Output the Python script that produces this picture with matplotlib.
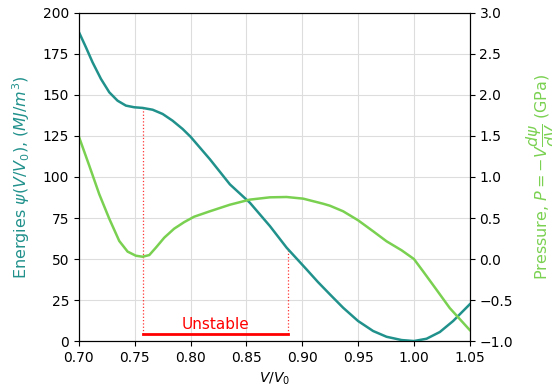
import numpy as np
import matplotlib
matplotlib.use("Agg")
import matplotlib.pyplot as plt

# values
v_energy = [0.7000, 0.7063, 0.7122, 0.7197, 0.7272, 0.7346, 0.7421, 0.7495,
            0.7570, 0.7660, 0.7750, 0.7839, 0.7928, 0.8000, 0.8173, 0.8352,
            0.8531, 0.8710, 0.8860, 0.9038, 0.9140, 0.9247, 0.9366, 0.9500,
            0.9635, 0.9755, 0.9890, 1.0000, 1.0113, 1.0232, 1.0351, 1.0500]
energy = [188.3, 179.0, 169.9, 159.8, 151.6, 146.5, 143.5, 142.5,
          142.1, 141.0, 138.4, 134.3, 129.3, 124.5, 110.8, 95.5,
          84.3, 70.1, 56.9, 43.7, 36.0, 28.5, 20.3, 12.2,
          6.1, 2.6, 0.6, 0.0, 1.4, 5.5, 12.2, 22.4]

v_pressure = [0.7000, 0.7092, 0.7182, 0.7272, 0.7361, 0.7436, 0.7510, 0.7570,
              0.7630, 0.7690, 0.7764, 0.7853, 0.7943, 0.8032, 0.8173, 0.8352,
              0.8530, 0.8710, 0.8860, 0.9008, 0.9187, 0.9247, 0.9366, 0.9500,
              0.9635, 0.9755, 0.9890, 1.0000, 1.0082, 1.0202, 1.0321, 1.0500]
pressure = [1.49, 1.14, 0.79, 0.49, 0.22, 0.09, 0.04, 0.028,
            0.048, 0.14, 0.26, 0.37, 0.45, 0.516, 0.582, 0.662,
            0.724, 0.752, 0.756, 0.736, 0.674, 0.65, 0.582, 0.472,
            0.338, 0.216, 0.106, 0.0, -0.15, -0.374, -0.598, -0.866]

v_unstable = [0.757, 0.887]
e_unstable = [142.1, 56.5]
unstable_level = 4

teal = '#21918c'
green = '#7ad151'

fig, ax = plt.subplots(figsize=(5.52, 3.92), dpi=100)
fig.subplots_adjust(left=0.143, right=0.851, top=0.967, bottom=0.130)

ax.plot(v_energy, energy, color=teal, lw=1.8, zorder=3)
ax.set_xlim(0.70, 1.05)
ax.set_ylim(0, 200)
ax.set_xlabel('$V/V_0$')
ax.set_ylabel(r'Energies $\psi(V/V_0)$, $(MJ/m^3)$', color=teal, fontsize=11.5,
              labelpad=7.5)
ax.grid(True, color='#dddddd', lw=0.8)

# unstable region
for v, e in zip(v_unstable, e_unstable):
    ax.plot([v, v], [unstable_level, e], color='red', ls=':', lw=0.9, alpha=0.8)
ax.plot(v_unstable, [unstable_level, unstable_level], color='red', lw=2)
ax.text(np.mean(v_unstable), unstable_level + 1.5, 'Unstable', color='red',
        ha='center', va='bottom', fontsize=11)

ax2 = ax.twinx()
ax2.plot(v_pressure, pressure, color=green, lw=1.8)
ax2.set_ylim(-1, 3)
ax2.set_ylabel(r'Pressure, $P = -V\dfrac{d\psi}{dV}$ (GPa)', color=green,
               fontsize=11.5, labelpad=8)

plt.savefig('out.png', dpi=100)
